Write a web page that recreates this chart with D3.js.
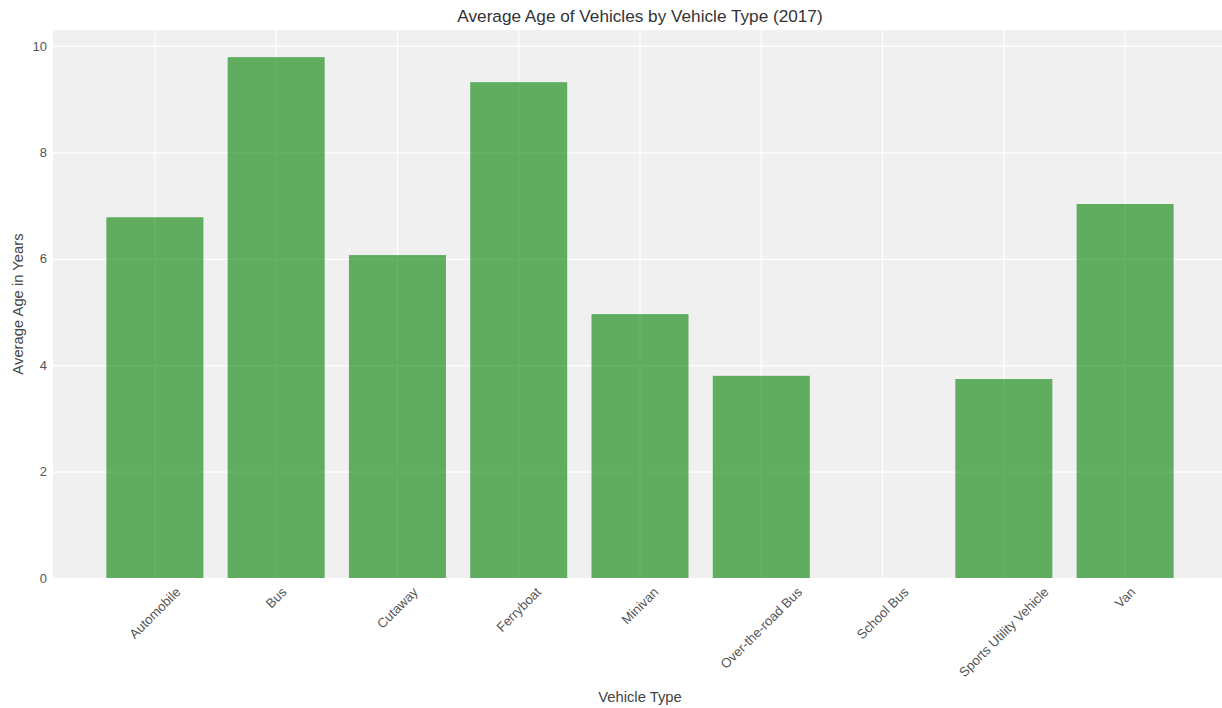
<!DOCTYPE html>
<html>
<head>
<meta charset="utf-8">
<script src="https://cdn.jsdelivr.net/npm/d3@7"></script>
<style>
  html, body { margin: 0; padding: 0; background: #ffffff; }
  svg { display: block; }
  text { font-family: "Liberation Sans", Arial, sans-serif; }
</style>
</head>
<body>
<svg id="chart" width="1222" height="708"></svg>
<script>
const categories = ["Automobile", "Bus", "Cutaway", "Ferryboat", "Minivan", "Over-the-road Bus", "School Bus", "Sports Utility Vehicle", "Van"];
const averageAge = [6.78, 9.79, 6.07, 9.32, 4.96, 3.80, 0, 3.74, 7.03];
const yTicks = [0, 2, 4, 6, 8, 10];
const titleText = "Average Age of Vehicles by Vehicle Type (2017)";
const xLabelText = "Vehicle Type";
const yLabelText = "Average Age in Years";

const W = 1222, H = 708;
const margin = { left: 53, top: 30, right: 1227, bottom: 578 };

const svg = d3.select("#chart");

const x = d3.scaleBand()
  .domain(categories)
  .range([margin.left, margin.right])
  .paddingInner(0.2)
  .paddingOuter(0.44);

const y = d3.scaleLinear()
  .domain([0, 10.3])
  .range([margin.bottom, margin.top]);

// plot background
svg.append("rect")
  .attr("x", margin.left).attr("y", margin.top)
  .attr("width", margin.right - margin.left)
  .attr("height", margin.bottom - margin.top)
  .attr("fill", "#f0f0f0");

// horizontal gridlines
const yAxis = d3.axisLeft(y).tickValues(yTicks).tickFormat(d3.format("d"))
  .tickSize(-(margin.right - margin.left)).tickPadding(6);
const gy = svg.append("g").attr("transform", `translate(${margin.left},0)`).call(yAxis);
gy.select(".domain").remove();
gy.selectAll(".tick line").attr("stroke", "#ffffff").attr("stroke-width", 1.2);
gy.selectAll(".tick text").attr("fill", "#555555").style("font-size", "13px")
  .style("font-family", "'Liberation Sans', Arial, sans-serif");

// vertical gridlines
const xAxis = d3.axisBottom(x).tickSize(-(margin.bottom - margin.top)).tickFormat("");
const gx = svg.append("g").attr("transform", `translate(0,${margin.bottom})`).call(xAxis);
gx.select(".domain").remove();
gx.selectAll(".tick line").attr("stroke", "#ffffff").attr("stroke-width", 1.2);

// bars
svg.append("g").selectAll("rect.bar")
  .data(categories.map((c, i) => ({ c, v: averageAge[i] })))
  .join("rect")
  .attr("class", "bar")
  .attr("x", d => x(d.c))
  .attr("width", x.bandwidth())
  .attr("y", d => y(d.v))
  .attr("height", d => y(0) - y(d.v))
  .attr("fill", "green")
  .attr("fill-opacity", 0.6);

// x tick labels rotated 45, centered bounding box
const labelG = svg.append("g");
const fs = 13.2;
categories.forEach(c => {
  const t = labelG.append("text")
    .text(c)
    .attr("fill", "#555555")
    .style("font-size", fs + "px")
    .attr("text-anchor", "middle")
    .attr("dominant-baseline", "central");
  const w = t.node().getComputedTextLength();
  const h = fs * 1.0;
  const bboxH = (w + h) * Math.SQRT1_2;
  const cx = x(c) + x.bandwidth() / 2;
  const cy = margin.bottom + 7 + bboxH / 2;
  t.attr("transform", `translate(${cx},${cy}) rotate(-45)`);
});

// title
svg.append("text")
  .attr("x", (margin.left + margin.right) / 2)
  .attr("y", 22)
  .attr("text-anchor", "middle")
  .attr("fill", "#333333")
  .style("font-size", "17.2px")
  .text(titleText);

// x label
svg.append("text")
  .attr("x", (margin.left + margin.right) / 2)
  .attr("y", 702)
  .attr("text-anchor", "middle")
  .attr("fill", "#444444")
  .style("font-size", "14.8px")
  .text(xLabelText);

// y label
svg.append("text")
  .attr("transform", `translate(23,${(margin.top + margin.bottom) / 2}) rotate(-90)`)
  .attr("text-anchor", "middle")
  .attr("fill", "#444444")
  .style("font-size", "14.8px")
  .text(yLabelText);
</script>
</body>
</html>
